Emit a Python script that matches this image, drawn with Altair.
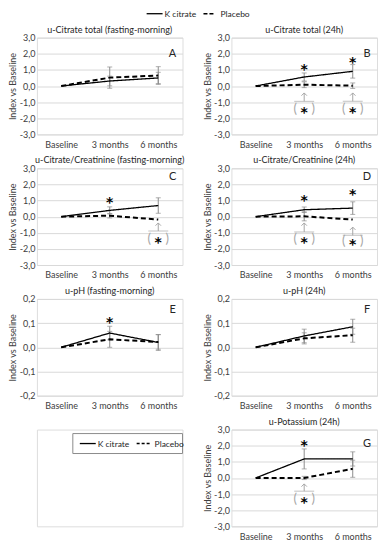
import altair as alt
import pandas as pd

months = ["Baseline", "3 months", "6 months"]
series = ["K citrate", "Placebo"]

titles = {
    "A": "u-Citrate total (fasting-morning)",
    "B": "u-Citrate total (24h)",
    "C": "u-Citrate/Creatinine  (fasting-morning)",
    "D": "u-Citrate/Creatinine  (24h)",
    "E": "u-pH (fasting-morning)",
    "F": "u-pH (24h)",
    "G": "u-Potassium (24h)",
}

# mean index vs baseline
kcit_A = [0.0, 0.31, 0.50]
plac_A = [0.0, 0.52, 0.65]
kcit_B = [0.0, 0.56, 0.91]
plac_B = [0.0, 0.08, 0.02]
kcit_C = [0.0, 0.39, 0.69]
plac_C = [0.0, 0.06, -0.18]
kcit_D = [0.0, 0.43, 0.53]
plac_D = [0.0, 0.02, -0.18]
kcit_E = [0.0, 0.059, 0.020]
plac_E = [0.0, 0.033, 0.022]
kcit_F = [0.0, 0.047, 0.085]
plac_F = [0.0, 0.037, 0.050]
kcit_G = [0.0, 1.18, 1.18]
plac_G = [0.0, 0.00, 0.57]

# error (half-width) of the bars
kcit_err_A = [0.0, 0.30, 0.35]
plac_err_A = [0.0, 0.66, 0.55]
kcit_err_B = [0.0, 0.25, 0.42]
plac_err_B = [0.0, 0.18, 0.17]
kcit_err_C = [0.0, 0.22, 0.48]
plac_err_C = [0.0, 0.14, 0.0]
kcit_err_D = [0.0, 0.17, 0.39]
plac_err_D = [0.0, 0.28, 0.0]
kcit_err_E = [0.0, 0.028, 0.033]
plac_err_E = [0.0, 0.033, 0.030]
kcit_err_F = [0.0, 0.028, 0.031]
plac_err_F = [0.0, 0.023, 0.029]
kcit_err_G = [0.0, 0.62, 0.44]
plac_err_G = [0.0, 0.10, 0.53]

# significance asterisks (K citrate vs baseline): month, y
stars = {
    "A": ([], []),
    "B": (["3 months", "6 months"], [1.25, 1.65]),
    "C": (["3 months"], [1.08]),
    "D": (["3 months", "6 months"], [1.2, 1.6]),
    "E": (["3 months"], [0.118]),
    "F": ([], []),
    "G": (["3 months"], [2.2]),
}

# bracketed asterisks (K citrate vs placebo): month, arrow tip, bar, bracket centre
brackets = {
    "B": (["3 months", "6 months"], [-0.43, -0.43], [-0.95, -0.95], [-1.41, -1.41]),
    "C": (["6 months"], [-0.39], [-0.89], [-1.36]),
    "D": (["3 months", "6 months"], [-0.39, -0.65], [-0.95, -1.16], [-1.36, -1.54]),
    "G": (["3 months"], [-0.37], [-0.82], [-1.29]),
}

big_ticks = [-3, -2, -1, 0, 1, 2, 3]
ph_ticks = [-0.2, -0.1, 0.0, 0.1, 0.2]

data = {
    "A": (kcit_A, plac_A, kcit_err_A, plac_err_A),
    "B": (kcit_B, plac_B, kcit_err_B, plac_err_B),
    "C": (kcit_C, plac_C, kcit_err_C, plac_err_C),
    "D": (kcit_D, plac_D, kcit_err_D, plac_err_D),
    "E": (kcit_E, plac_E, kcit_err_E, plac_err_E),
    "F": (kcit_F, plac_F, kcit_err_F, plac_err_F),
    "G": (kcit_G, plac_G, kcit_err_G, plac_err_G),
}

W = 146
H = 97
GREY = "#8c8c8c"
LGREY = "#a6a6a6"
TXT = "#262626"
LBL = "#404040"
FONT = "Lato"
letter_y = {"A": 16, "B": 16, "C": 9, "D": 9, "E": 11, "F": 11, "G": 14}


def legend_layers(x0, y0, boxed):
    ldf = pd.DataFrame({"name": series})
    k = ldf[ldf["name"] == series[0]]
    p = ldf[ldf["name"] == series[1]]
    layers = []
    if boxed:
        layers.append(alt.Chart(k).mark_rect(fill="white", stroke="#8c8c8c", strokeWidth=1).encode(
            x=alt.value(x0 - 7), x2=alt.value(x0 + 103), y=alt.value(y0 - 10), y2=alt.value(y0 + 10)))
    dash_end = 15 if boxed else 12
    text2 = 18 if boxed else 17
    layers += [
        alt.Chart(k).mark_rule(color="black", strokeWidth=1.3).encode(
            x=alt.value(x0), x2=alt.value(x0 + 16), y=alt.value(y0)),
        alt.Chart(k).mark_text(align="left", fontSize=8.5, font=FONT, color=TXT).encode(
            x=alt.value(x0 + 18), y=alt.value(y0), text="name:N"),
        alt.Chart(p).mark_rule(color="black", strokeWidth=1.6, strokeDash=[4, 2] if not boxed else [3, 2]).encode(
            x=alt.value(x0 + 57), x2=alt.value(x0 + 57 + dash_end), y=alt.value(y0)),
        alt.Chart(p).mark_text(align="left", fontSize=8.5, font=FONT, color=TXT).encode(
            x=alt.value(x0 + 57 + text2), y=alt.value(y0), text="name:N"),
    ]
    return layers


def panel(key):
    k, p, ke, pe = data[key]
    ticks = ph_ticks if key in ("E", "F") else big_ticks
    dom = [ticks[0], ticks[-1]]
    rows = []
    for s, vals, errs in (("K citrate", k, ke), ("Placebo", p, pe)):
        for m, v, e in zip(months, vals, errs):
            rows.append({"month": m, "series": s, "value": v, "lo": v - e, "hi": v + e, "err": e})
    df = pd.DataFrame(rows)
    dferr = df[df["err"] > 0]

    X = alt.X("month:N", scale=alt.Scale(type="point", domain=months, padding=0.5),
              axis=alt.Axis(labelAngle=0, ticks=False, domain=False, grid=False, title=None,
                            labelFontSize=9, labelPadding=6, labelColor=LBL, labelFont=FONT))
    yaxis = alt.Axis(values=ticks, grid=True, gridColor="#d9d9d9", domain=False, ticks=False,
                     labelFontSize=9, labelPadding=2, labelColor=LBL, labelFont=FONT,
                     labelExpr="replace(replace(format(datum.value, '.1f'), '.', ','), '\u2212', '-')",
                     title="Index vs Baseline", titleFontSize=9, titleFontWeight="normal",
                     titleColor=LBL, titleFont=FONT, titlePadding=1, minExtent=18, maxExtent=18)
    ysc = alt.Scale(domain=dom, nice=False, zero=False)
    Y = alt.Y("value:Q", scale=ysc, axis=yaxis)
    Ylo = alt.Y("lo:Q", scale=ysc, axis=yaxis)
    Yhi = alt.Y("hi:Q", scale=ysc, axis=yaxis)

    base = alt.Chart(df)
    errbase = alt.Chart(dferr)
    layers = [
        errbase.mark_rule(color=GREY, strokeWidth=1).encode(x=X, y=Ylo, y2="hi:Q"),
        errbase.mark_tick(color=GREY, size=5, thickness=1).encode(x=X, y=Ylo),
        errbase.mark_tick(color=GREY, size=5, thickness=1).encode(x=X, y=Yhi),
        base.mark_line(color="black").encode(
            x=X, y=Y,
            strokeDash=alt.StrokeDash("series:N", scale=alt.Scale(domain=series, range=[[1, 0], [5, 3]]), legend=None),
            strokeWidth=alt.StrokeWidth("series:N", scale=alt.Scale(domain=series, range=[1.3, 2.0]), legend=None),
            detail="series:N",
        ),
    ]
    sm, sy = stars[key]
    if sm:
        sdf = pd.DataFrame({"month": sm, "value": sy, "t": ["*"] * len(sm)})
        layers.append(alt.Chart(sdf).mark_text(fontSize=14, fontWeight="bold", font="DejaVu Sans",
                                               fill="#000000", color="#000000", dy=4).encode(x=X, y=Y, text="t:N"))
    if key in brackets:
        bm, tip, bar, cen = brackets[key]
        bdf = pd.DataFrame({"month": bm, "tip": tip, "bar": bar, "value": cen, "t": ["*"] * len(bm)})
        Ytip = alt.Y("tip:Q", scale=ysc, axis=yaxis)
        Ybar = alt.Y("bar:Q", scale=ysc, axis=yaxis)
        bc = alt.Chart(bdf)
        layers += [
            bc.mark_rule(color=LGREY, strokeWidth=1).encode(x=X, y=Ybar, y2="tip:Q"),
            bc.mark_point(shape="M-1,1L0,0L1,1", size=30, filled=False, color=LGREY, strokeWidth=1,
                          opacity=1).encode(x=X, y=Ytip),
            bc.mark_tick(color=LGREY, size=20, thickness=1).encode(x=X, y=Ybar),
            bc.mark_text(text="(", fontSize=13, color=LGREY, dx=-9, font=FONT).encode(x=X, y=Y),
            bc.mark_text(text=")", fontSize=13, color=LGREY, dx=9, font=FONT).encode(x=X, y=Y),
            bc.mark_text(fontSize=14, fontWeight="bold", font="DejaVu Sans", fill="#000000", color="#000000",
                         dy=4).encode(x=X, y=Y, text="t:N"),
        ]
    ldf = pd.DataFrame({"letter": [key], "title": [titles[key]]})
    layers.append(alt.Chart(ldf).mark_text(fontSize=11, font=FONT, color=TXT).encode(
        x=alt.value(136), y=alt.value(letter_y[key]), text="letter:N"))
    layers.append(alt.Chart(ldf).mark_text(fontSize=9, font=FONT, color=TXT).encode(
        x=alt.value(W / 2), y=alt.value(-8), text="title:N"))
    if key == "A":
        layers += legend_layers(110, -24, False)
    return alt.layer(*layers).properties(width=W, height=H)


bottom_leg = alt.layer(*legend_layers(43, 14, True)).properties(width=W, height=H)

chart = alt.ConcatChart(
    concat=[panel("A"), panel("B"), panel("C"), panel("D"), panel("E"), panel("F"), bottom_leg, panel("G")],
    columns=2,
    bounds="flush",
    spacing={"row": 34, "column": 49},
).properties(
    padding={"left": 0, "top": 0, "right": 0, "bottom": 0}
).configure_view(stroke="transparent").configure(font=FONT)

chart.save("out.html", embed_options={"renderer": "svg", "actions": False})
